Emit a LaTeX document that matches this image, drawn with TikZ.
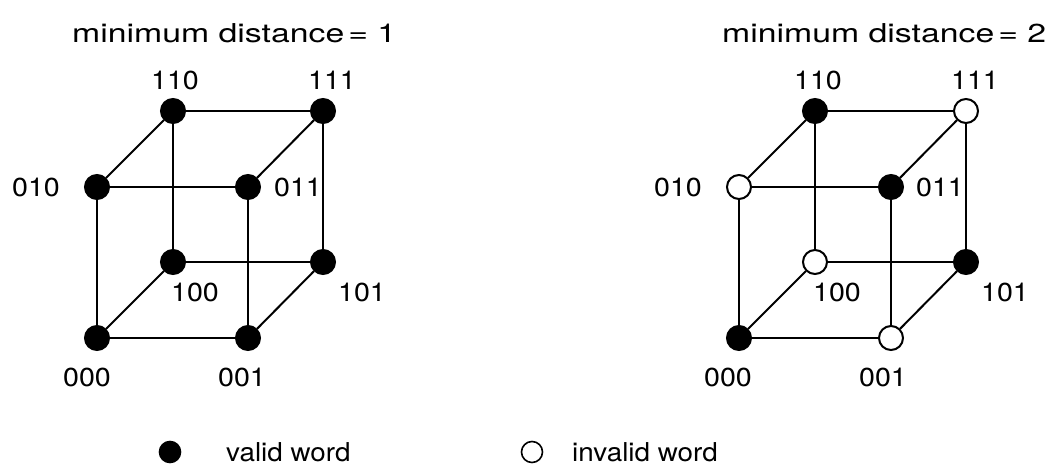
\documentclass[tikz,border=0pt]{standalone}
\usepackage{fontspec}
\setmainfont{TeX Gyre Heros}
\newfontfamily\titlefont[FakeStretch=1.3]{TeX Gyre Heros}
\newfontfamily\digitfont[FakeStretch=1.1]{TeX Gyre Heros}
\newfontfamily\legfont[FakeStretch=1.07]{TeX Gyre Heros}
\begin{document}
\begin{tikzpicture}[x=1pt,y=-1pt,
  vtx/.style={circle, draw=black, line width=2pt, minimum size=24pt, inner sep=0pt},
  valid/.style={vtx, fill=black},
  invalid/.style={vtx, fill=white},
  edge/.style={line width=2pt},
  lbl/.style={font=\digitfont\fontsize{26}{31}\selectfont, inner sep=0pt},
  ttl/.style={font=\titlefont\fontsize{26}{31}\selectfont, inner sep=0pt, anchor=base west},
  leg/.style={font=\legfont\fontsize{26}{31}\selectfont, inner sep=0pt, anchor=west},
  legvtx/.style={circle, draw=black, line width=1.6pt, minimum size=21pt, inner sep=0pt}]
\useasboundingbox (0,0) rectangle (1049,466);
% titles
\node[ttl] (t1) at (72,42) {minimum distance\kern4pt=\ 1};
\node[ttl] (t2) at (722,42) {minimum distance\kern4pt=\ 2};
% left cube
\node[valid] (a110) at (173,111) {};
\node[valid] (a111) at (323,111) {};
\node[valid] (a010) at (97,187) {};
\node[valid] (a011) at (248,187) {};
\node[valid] (a100) at (173,262) {};
\node[valid] (a101) at (323,262) {};
\node[valid] (a000) at (97,338) {};
\node[valid] (a001) at (248,338) {};
\foreach \u/\v in {000/001,000/010,000/100,001/011,001/101,010/011,010/110,011/111,100/101,100/110,101/111,110/111}
  \draw[edge] (a\u) -- (a\v);
\node[lbl] (la110) at (175,80) {110};
\node[lbl] (la111) at (332,80) {111};
\node[lbl] (la010) at (36,187) {010};
\node[lbl] (la011) at (298,187) {011};
\node[lbl] (la100) at (195,292) {100};
\node[lbl] (la101) at (362,292) {101};
\node[lbl] (la000) at (87,377) {000};
\node[lbl] (la001) at (242,377) {001};
% right cube
\node[valid] (b110) at (815,111) {};
\node[invalid] (b111) at (966,111) {};
\node[invalid] (b010) at (739,187) {};
\node[valid] (b011) at (891,187) {};
\node[invalid] (b100) at (815,262) {};
\node[valid] (b101) at (966,262) {};
\node[valid] (b000) at (739,338) {};
\node[invalid] (b001) at (891,338) {};
\foreach \u/\v in {000/001,000/010,000/100,001/011,001/101,010/011,010/110,011/111,100/101,100/110,101/111,110/111}
  \draw[edge] (b\u) -- (b\v);
\node[lbl] (lb110) at (818,80) {110};
\node[lbl] (lb111) at (975,80) {111};
\node[lbl] (lb010) at (678,187) {010};
\node[lbl] (lb011) at (940,187) {011};
\node[lbl] (lb100) at (837,292) {100};
\node[lbl] (lb101) at (1005,292) {101};
\node[lbl] (lb000) at (728,377) {000};
\node[lbl] (lb001) at (883,377) {001};
% legend
\node[legvtx, fill=black] (lgv) at (170,452) {};
\node[leg] (lgvt) at (226,452) {valid word};
\node[legvtx, fill=white] (lgi) at (532,452) {};
\node[leg] (lgit) at (572,452) {invalid word};
\end{tikzpicture}
\end{document}
